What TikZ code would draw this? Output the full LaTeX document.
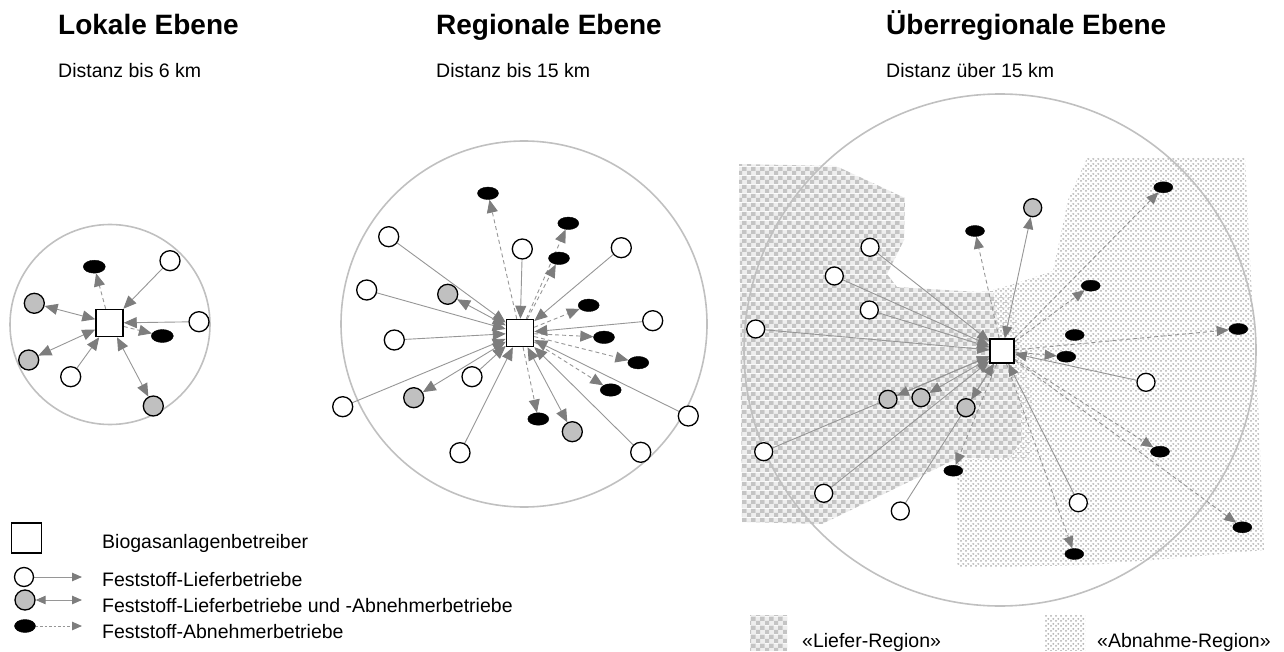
\documentclass[tikz,border=0pt]{standalone}
\usepackage{fontspec}
\setmainfont{Liberation Sans}
\usetikzlibrary{arrows.meta,shapes.geometric,patterns.meta}
\definecolor{linegray}{RGB}{150,150,150}
\definecolor{headgray}{RGB}{125,125,125}
\definecolor{ringgray}{RGB}{192,192,192}
\definecolor{fillgray}{RGB}{192,192,192}
\definecolor{chkdark}{RGB}{196,196,196}
\definecolor{chklight}{RGB}{238,238,238}
\definecolor{dotgray}{RGB}{178,178,178}
\pgfdeclarelayer{bg}
\pgfdeclarelayer{conn}
\pgfsetlayers{bg,conn,main}
\tikzdeclarepattern{
  name=checker, type=colored,
  bottom left={(0pt,0pt)}, top right={(9pt,9pt)}, tile size={(9pt,9pt)},
  code={
    \fill[chklight] (0pt,0pt) rectangle (9pt,9pt);
    \fill[chkdark] (0pt,0pt) rectangle (4.5pt,4.5pt);
    \fill[chkdark] (4.5pt,4.5pt) rectangle (9pt,9pt);
  }}
\tikzdeclarepattern{
  name=dotty, type=colored,
  bottom left={(0pt,0pt)}, top right={(5pt,5pt)}, tile size={(5pt,5pt)},
  code={
    \fill[white] (0pt,0pt) rectangle (5pt,5pt);
    \fill[dotgray] (1.2pt,1.3pt) circle (1.15pt);
    \fill[dotgray] (3.8pt,3.7pt) circle (1.15pt);
  }}
\tikzset{
  sq/.style={rectangle, draw=black, line width=1.5pt, fill=white, minimum size=27pt, inner sep=0pt},
  wn/.style={circle, draw=black, line width=1.3pt, fill=white, minimum size=20pt, inner sep=0pt},
  gn/.style={circle, draw=black, line width=1.3pt, fill=fillgray, minimum size=20pt, inner sep=0pt},
  bn/.style={ellipse, fill=black, draw=black, minimum width=21pt, minimum height=12.5pt, inner sep=0pt},
  bigtip/.tip={Triangle[length=13pt,width=11pt,color=headgray]},
  midtip/.tip={Triangle[length=12pt,width=10pt,color=headgray]},
  smalltip/.tip={Triangle[length=10pt,width=8.5pt,color=headgray]},
  supply/.style={draw=linegray, line width=0.9pt, -bigtip},
  both/.style={draw=linegray, line width=0.9pt, bigtip-bigtip},
  take/.style={draw=linegray, line width=0.9pt, dash pattern=on 4pt off 3pt, -bigtip},
  ring/.style={draw=ringgray, line width=1.6pt},
  ttl/.style={font=\fontsize{28}{32}\selectfont\bfseries, inner sep=0pt, anchor=base west},
  txt/.style={font=\fontsize{19.5}{23}\selectfont, inner sep=0pt, anchor=base west},
}
\begin{document}
\begin{tikzpicture}[x=1pt,y=-1pt]
\useasboundingbox (0,0) rectangle (1284,652);

% titles
\node[ttl] (t1) at (58,35) {Lokale Ebene};
\node[ttl] (t2) at (436,35) {Regionale Ebene};
\node[ttl] (t3) at (886,35) {Überregionale Ebene};
\node[txt] (d1) at (58,78) {Distanz bis 6 km};
\node[txt] (d2) at (436,78) {Distanz bis 15 km};
\node[txt] (d3) at (886,78) {Distanz über 15 km};

% regions
\begin{pgfonlayer}{bg}
\fill[pattern=checker] (739,164) -- (836,166) -- (905,198) -- (904,240) -- (887,274) -- (897,287) -- (978,292) -- (1010,290) -- (1032,400) -- (1030,458) -- (958,458) -- (822,524) -- (742,522) -- cycle;
\fill[pattern=dotty] (1087,158) -- (1245,157) -- (1250,260) -- (1258,400) -- (1264,550) -- (1190,557) -- (1090,565) -- (957,568) -- (957,460) -- (1010,457) -- (1022,440) -- (1020,400) -- (1012,370) -- (1000,340) -- (993,290) -- (1020,282) -- (1053,271) -- (1068,200) -- cycle;
\fill[pattern=checker] (750,615) rectangle (787,650);
\fill[pattern=dotty] (1045,615) rectangle (1085,650);
\draw[ring] (110,324.5) circle (100);
\draw[ring] (524,324) circle (183);
\draw[ring] (1000,350) circle (256);
\end{pgfonlayer}

% ---------- left diagram
\node[sq] (L0) at (109.5,323) {};
\node[bn, minimum width=22pt, minimum height=13pt] (Lb1) at (94.3,266.7) {};
\node[wn] (Lw1) at (170,260.7) {};
\node[wn] (Lw2) at (199,321.7) {};
\node[bn, minimum width=22pt, minimum height=13pt] (Lb2) at (162.3,336) {};
\node[gn] (Lg1) at (34.3,303.3) {};
\node[gn] (Lg2) at (28.7,360) {};
\node[wn] (Lw3) at (70.7,376.7) {};
\node[gn] (Lg3) at (153.3,406) {};

% ---------- middle diagram
\node[sq] (M0) at (520,333) {};
\node[bn] (Mb1) at (488,193.3) {};
\node[bn] (Mb2) at (568.3,223.3) {};
\node[bn] (Mb3) at (559,258.3) {};
\node[bn] (Mb4) at (588.7,305.3) {};
\node[bn] (Mb5) at (604,337.3) {};
\node[bn] (Mb6) at (638.3,362.7) {};
\node[bn] (Mb7) at (610.7,390) {};
\node[bn] (Mb8) at (538.3,419) {};
\node[wn] (Mw1) at (388.7,236.7) {};
\node[wn] (Mw2) at (522.3,249) {};
\node[wn] (Mw3) at (621.3,247.7) {};
\node[wn] (Mw4) at (366.7,290) {};
\node[wn] (Mw5) at (652.7,320.7) {};
\node[wn] (Mw6) at (394.3,340) {};
\node[wn] (Mw7) at (472,376.7) {};
\node[wn] (Mw8) at (342.7,406.7) {};
\node[wn] (Mw9) at (688.3,416) {};
\node[wn] (Mw10) at (460,452.7) {};
\node[wn] (Mw11) at (640.7,452.3) {};
\node[gn] (Mg1) at (447.7,294.3) {};
\node[gn] (Mg2) at (413.7,397.7) {};
\node[gn] (Mg3) at (572.3,431.7) {};

% ---------- right diagram
\begin{scope}[wn/.append style={minimum size=18pt}, gn/.append style={minimum size=18pt},
  bn/.append style={minimum width=19pt, minimum height=11pt}, sq/.append style={minimum size=24pt}]
\node[sq] (R0) at (1002,351) {};
\node[bn] (Rb1) at (975,231) {};
\node[bn] (Rb2) at (1163.3,187.3) {};
\node[bn] (Rb3) at (1090.7,285.7) {};
\node[bn] (Rb4) at (1074.7,335) {};
\node[bn] (Rb5) at (1066.3,356.7) {};
\node[bn] (Rb6) at (1238.3,329) {};
\node[bn] (Rb7) at (953.3,470.7) {};
\node[bn] (Rb8) at (1160,451.7) {};
\node[bn] (Rb9) at (1074.3,554) {};
\node[bn] (Rb10) at (1242.3,527.3) {};
\node[wn] (Rw1) at (870,247.3) {};
\node[wn] (Rw2) at (834.3,276) {};
\node[wn] (Rw3) at (869.3,310) {};
\node[wn] (Rw4) at (755.7,329) {};
\node[wn] (Rw5) at (1146,382.3) {};
\node[wn] (Rw6) at (763.7,451.7) {};
\node[wn] (Rw7) at (823.7,493.3) {};
\node[wn] (Rw8) at (900.3,511) {};
\node[wn] (Rw9) at (1078.3,502.7) {};
\node[gn] (Rg1) at (1032.7,207.7) {};
\node[gn] (Rg2) at (888,399.3) {};
\node[gn] (Rg3) at (921,397.7) {};
\node[gn] (Rg4) at (966,407.7) {};
\end{scope}

% ---------- legend
\node[sq, minimum size=30pt] (LS) at (26.5,538) {};
\node[wn, minimum size=19pt] (LW) at (24,577) {};
\node[gn, minimum size=20pt] (LG) at (25,600) {};
\node[bn, minimum width=21pt, minimum height=13pt] (LB) at (25,626) {};
\coordinate (LA1) at (82,577);
\coordinate (LA2) at (82,600);
\coordinate (LA3) at (82,626);
\node[txt] (lt1) at (102,548) {Biogasanlagenbetreiber};
\node[txt] (lt2) at (102,586) {Feststoff-Lieferbetriebe};
\node[txt] (lt3) at (102,612) {Feststoff-Lieferbetriebe und -Abnehmerbetriebe};
\node[txt] (lt4) at (102,638) {Feststoff-Abnehmerbetriebe};
\node[txt] (rt1) at (802,647) {«Liefer-Region»};
\node[txt] (rt2) at (1097,647) {«Abnahme-Region»};

\begin{pgfonlayer}{conn}
% left
\draw[take] (L0) -- (Lb1);
\draw[supply] (Lw1) -- (L0);
\draw[supply] (Lw2) -- (L0);
\draw[take] (L0) -- (Lb2);
\draw[both] (Lg1) -- (L0);
\draw[both] (Lg2) -- (L0);
\draw[supply] (Lw3) -- (L0);
\draw[both] (Lg3) -- (L0);
% middle
\foreach \n in {Mb1,Mb2,Mb3,Mb4,Mb5,Mb6,Mb7,Mb8} \draw[take] (M0) -- (\n);
\foreach \n in {Mw1,Mw2,Mw3,Mw4,Mw5,Mw6,Mw7,Mw8,Mw9,Mw10,Mw11} \draw[supply] (\n) -- (M0);
\foreach \n in {Mg1,Mg2,Mg3} \draw[both] (\n) -- (M0);
% right
\begin{scope}[supply/.append style={-midtip}, take/.append style={-midtip}, both/.append style={midtip-midtip}]
\foreach \n in {Rb1,Rb2,Rb3,Rb5,Rb6,Rb7,Rb8,Rb9,Rb10} \draw[take] (R0) -- (\n);
\foreach \n in {Rw1,Rw2,Rw3,Rw4,Rw5,Rw6,Rw7,Rw8,Rw9} \draw[supply] (\n) -- (R0);
\foreach \n in {Rg1,Rg2,Rg3,Rg4} \draw[both] (\n) -- (R0);
\end{scope}
% legend
\draw[supply, -smalltip] (LW) -- (LA1);
\draw[both, smalltip-smalltip] (LG) -- (LA2);
\draw[take, dash pattern=on 2.5pt off 2pt, -smalltip] (LB) -- (LA3);
\end{pgfonlayer}
\end{tikzpicture}
\end{document}
